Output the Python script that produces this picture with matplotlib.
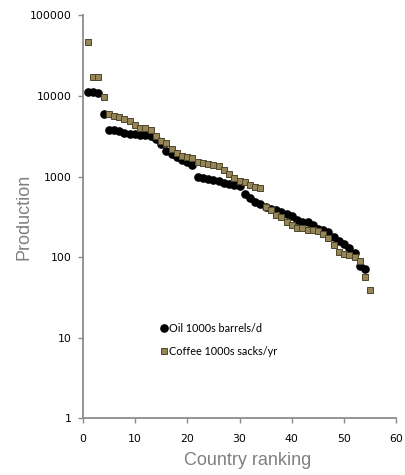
import matplotlib
matplotlib.use("Agg")
import matplotlib.pyplot as plt
from matplotlib.ticker import FixedLocator, NullLocator, FuncFormatter

# oil production, 1000s barrels/day, by country rank
oil = [11300, 11200, 11000, 5900, 3750, 3720, 3680, 3500, 3400, 3350,
       3300, 3250, 3200, 2900, 2560, 2050, 1920, 1750, 1620, 1500,
       1380, 980, 950, 920, 900, 870, 830, 810, 790, 760,
       610, 540, 480, 450, 420, 400, 380, 365, 345, 320,
       290, 275, 270, 250, 225, 215, 205, 180, 160, 145,
       130, 112, 78, 72]

# coffee production, 1000s sacks/year, by country rank
coffee = [46000, 17000, 17000, 9600, 5900, 5600, 5500, 5100, 4900, 4300,
          4050, 4000, 3800, 3200, 2730, 2600, 2220, 1950, 1800, 1745,
          1715, 1510, 1485, 1415, 1400, 1340, 1195, 1065, 968, 880,
          855, 778, 742, 728, 419, 389, 330, 315, 273, 248,
          233, 233, 220, 216, 209, 196, 172, 140, 116, 110,
          105, 100, 90, 57, 39]

oil_rank = list(range(1, len(oil) + 1))
coffee_rank = list(range(1, len(coffee) + 1))

yticks = [1, 10, 100, 1000, 10000, 100000]
xticks = [0, 10, 20, 30, 40, 50, 60]

fig = plt.figure(figsize=(4.05, 4.75), dpi=100)
ax = fig.add_axes([0.204, 0.119, 0.775, 0.849])

ax.plot(oil_rank, oil, 'o', color='black', markersize=5.2, label='Oil 1000s barrels/d')
ax.plot(coffee_rank, coffee, 's', markerfacecolor='#958659', markeredgecolor='#4f4628',
        markeredgewidth=0.7, markersize=4.3, label='Coffee 1000s sacks/yr')

ax.set_yscale('log')
ax.set_ylim(1, 100000)
ax.set_xlim(0, 60)
ax.yaxis.set_major_locator(FixedLocator(yticks))
ax.yaxis.set_minor_locator(NullLocator())
ax.yaxis.set_major_formatter(FuncFormatter(lambda v, p: '%d' % v))
ax.set_xticks(xticks)

for s in ['top', 'right']:
    ax.spines[s].set_visible(False)
for s in ['left', 'bottom']:
    ax.spines[s].set_color('#8c8c8c')
    ax.spines[s].set_linewidth(1.3)

ax.tick_params(axis='y', length=3.5, width=1, color='#8c8c8c', labelsize=7.8, pad=4.5)
ax.tick_params(axis='x', length=3.5, width=1, color='#8c8c8c', labelsize=7.8, pad=8)
for lab in ax.get_xticklabels() + ax.get_yticklabels():
    lab.set_family('DejaVu Sans')

ax.set_ylabel('Production', fontsize=13, color='#808080', family='Liberation Sans')
ax.yaxis.set_label_coords(-0.16, 0.5)
ax.set_xlabel('Country ranking', fontsize=13, color='#808080', family='Liberation Sans')
ax.xaxis.set_label_coords(0.526, -0.083)

leg = ax.legend(loc='upper left', bbox_to_anchor=(0.232, 0.247), frameon=False,
                prop={'family': 'Lato', 'size': 7.8}, handletextpad=0.05,
                handlelength=0.8, labelspacing=1.1, borderaxespad=0)

fig.savefig('out.png', dpi=100)
